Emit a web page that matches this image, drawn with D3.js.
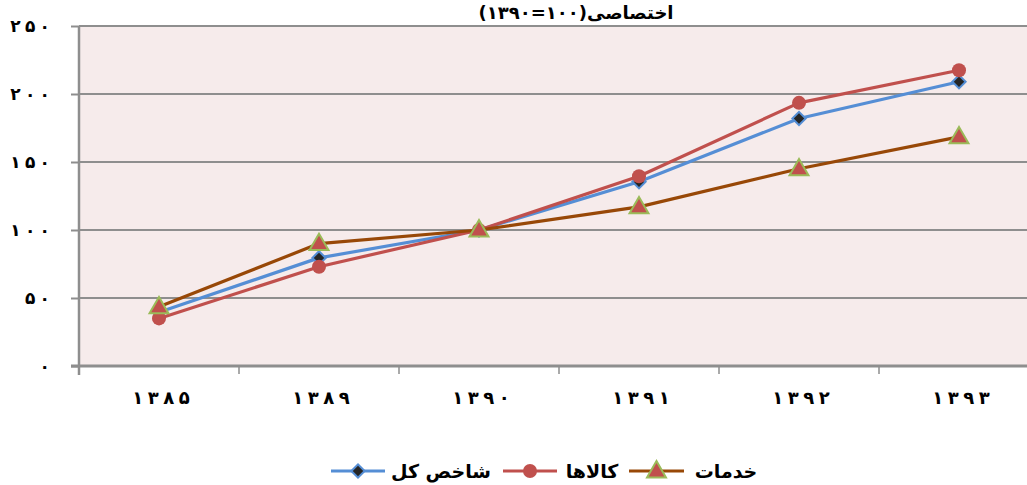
<!DOCTYPE html>
<html><head><meta charset="utf-8">
<script src="https://cdn.jsdelivr.net/npm/d3@7"></script>
<style>
body{margin:0;background:#fff;}
svg{display:block;font-family:"DejaVu Sans",sans-serif;font-weight:bold;}
</style></head>
<body><svg id="c" width="1027" height="485"></svg>
<script>
const categories = ["۱۳۸۵","۱۳۸۹","۱۳۹۰","۱۳۹۱","۱۳۹۲","۱۳۹۳"];
const totalIndex = [39.5, 79.5, 100, 135.5, 182, 209];
const goods = [35, 73, 100, 139.5, 193.5, 217.5];
const services = [43.5, 90, 100, 117, 145, 168.5];
const yTicks = [0, 50, 100, 150, 200, 250];
const yTickLabels = ["۰","۵۰","۱۰۰","۱۵۰","۲۰۰","۲۵۰"];
const seriesNames = ["شاخص کل","کالاها","خدمات"];
const titleText = "اختصاصی(۱۰۰=۱۳۹۰)";

const spaced = s => s.split("").join("\u2005");

const svg = d3.select("#c");
const L = 79, R = 1039, T = 26, B = 366;
const x = d3.scaleBand().domain(categories).range([L, R]);
const y = d3.scaleLinear().domain([0, 250]).range([B, T]);

svg.append("rect").attr("x", L).attr("y", T).attr("width", R - L).attr("height", B - T).attr("fill", "#f6ebeb");

// gridlines
svg.append("g").selectAll("line").data(yTicks.filter(d => d > 0)).join("line")
  .attr("x1", L).attr("x2", R).attr("y1", d => y(d)).attr("y2", d => y(d))
  .attr("stroke", "#8e8e8e").attr("stroke-width", 2);

// y axis
const yAxis = d3.axisLeft(y).tickValues(yTicks).tickSize(8).tickFormat((d, i) => spaced(yTickLabels[i]));
const gy = svg.append("g").attr("transform", `translate(${L},0)`).call(yAxis);
gy.select(".domain").attr("stroke", "#8e8e8e").attr("stroke-width", 2.5).attr("d", `M0,${T}V${B + 9}`);
gy.selectAll(".tick line").attr("stroke", "#8e8e8e").attr("stroke-width", 2);
gy.selectAll(".tick text").attr("x", -29).attr("font-size", 17).attr("font-weight", "bold")
  .attr("fill", "#000").attr("font-family", "DejaVu Sans");

// x axis
const gx = svg.append("g").attr("transform", `translate(0,${B})`);
gx.append("line").attr("x1", L - 8).attr("x2", R).attr("y1", 0).attr("y2", 0).attr("stroke", "#8e8e8e").attr("stroke-width", 3);
gx.selectAll(".xt").data(categories.slice(1)).join("line").attr("class", "xt")
  .attr("x1", d => x(d)).attr("x2", d => x(d)).attr("y1", 0).attr("y2", 8)
  .attr("stroke", "#8e8e8e").attr("stroke-width", 1.5);
gx.selectAll(".xl").data(categories).join("text").attr("class", "xl")
  .attr("x", d => x(d) + x.bandwidth() / 2 + 2).attr("y", 38)
  .attr("text-anchor", "middle").attr("font-size", 18).attr("fill", "#000")
  .text(d => spaced(d));

// title
svg.append("text").attr("x", 576).attr("y", 19).attr("text-anchor", "middle")
  .attr("direction", "rtl").attr("font-size", 18).attr("fill", "#000").text(titleText);

const cx = d => x(d) + x.bandwidth() / 2;
const line = d3.line().x((d, i) => cx(categories[i])).y(d => y(d));

const colors = ["#558ed5", "#c0504d", "#984807"];
const data = [totalIndex, goods, services];

const tri = d3.symbol().type(d3.symbolTriangle).size(155);

function marker(g, k, px, py) {
  if (k === 0) {
    g.append("path").attr("d", d3.symbol().type(d3.symbolSquare).size(88)())
      .attr("transform", `translate(${px},${py}) rotate(45)`)
      .attr("fill", "#262626").attr("stroke", "#558ed5").attr("stroke-width", 2);
  } else if (k === 1) {
    g.append("circle").attr("cx", px).attr("cy", py).attr("r", 7).attr("fill", "#c0504d");
  } else {
    g.append("path").attr("d", tri()).attr("transform", `translate(${px},${py + 1})`)
      .attr("fill", "#c0504d").attr("stroke", "#9bbb59").attr("stroke-width", 2);
  }
}

data.forEach((vals, k) => {
  const g = svg.append("g");
  g.append("path").datum(vals).attr("d", line).attr("fill", "none")
    .attr("stroke", colors[k]).attr("stroke-width", 3.2).attr("stroke-linejoin", "round");
  vals.forEach((v, i) => marker(g, k, cx(categories[i]), y(v)));
});

// legend
const legend = [
  {x1: 331, x2: 385, tx: 441},
  {x1: 503, x2: 557, tx: 592},
  {x1: 629, x2: 684, tx: 726}
];
const lg = svg.append("g");
legend.forEach((l, k) => {
  const ly = 471;
  lg.append("line").attr("x1", l.x1).attr("x2", l.x2).attr("y1", ly).attr("y2", ly)
    .attr("stroke", colors[k]).attr("stroke-width", 3.2);
  marker(lg, k, (l.x1 + l.x2) / 2, ly);
  lg.append("text").attr("x", l.tx).attr("y", ly + 7).attr("text-anchor", "middle")
    .attr("direction", "rtl").attr("font-size", 19).attr("fill", "#000").text(seriesNames[k]);
});
</script></body></html>
